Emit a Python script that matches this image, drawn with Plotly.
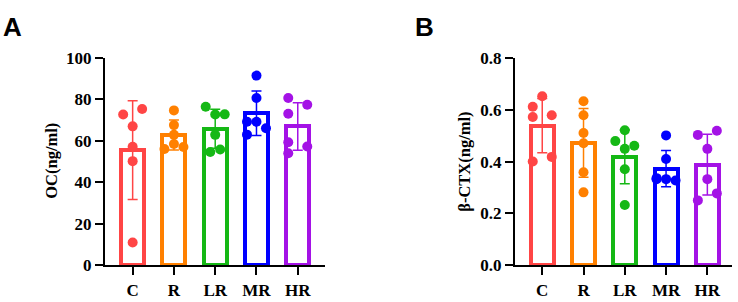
import numpy as np
import plotly.graph_objects as go

categories = ["C", "R", "LR", "MR", "HR"]
colors = ["#FF4545", "#FF8000", "#15B815", "#0000FF", "#A412E6"]

# Individual values
oc_C = [72.7, 75.4, 67.0, 57.1, 50.2, 10.9]
oc_R = [74.7, 67.6, 62.9, 58.5, 56.1, 57.0]
oc_LR = [76.5, 72.7, 72.8, 62.9, 55.8, 54.6]
oc_MR = [91.5, 80.7, 69.2, 69.2, 66.1, 63.0]
oc_HR = [80.7, 77.4, 73.1, 59.3, 57.3, 54.0]

ctx_C = [0.652, 0.612, 0.572, 0.579, 0.400, 0.418]
ctx_R = [0.633, 0.579, 0.510, 0.471, 0.359, 0.281]
ctx_LR = [0.521, 0.479, 0.461, 0.449, 0.370, 0.232]
ctx_MR = [0.501, 0.410, 0.332, 0.336, 0.332, 0.327]
ctx_HR = [0.503, 0.519, 0.449, 0.332, 0.277, 0.250]

# horizontal jitter of dots (category units), style only
jit_oc = [
    [-0.23, 0.23, 0.0, 0.0, 0.0, 0.0],
    [0.0, 0.0, 0.0, 0.0, -0.23, 0.23],
    [-0.23, 0.0, 0.23, 0.0, 0.12, -0.12],
    [0.0, 0.0, -0.23, 0.0, 0.23, -0.23],
    [-0.23, 0.23, -0.23, -0.23, 0.23, -0.23],
]
jit_ctx = [
    [0.0, -0.23, -0.23, 0.23, -0.23, 0.23],
    [0.0, 0.0, 0.0, 0.0, 0.0, 0.0],
    [0.0, -0.23, 0.23, 0.0, 0.0, 0.0],
    [0.0, 0.0, -0.23, -0.23, 0.0, 0.23],
    [-0.23, 0.23, 0.0, 0.0, 0.23, -0.23],
]

oc_groups = [oc_C, oc_R, oc_LR, oc_MR, oc_HR]
ctx_groups = [ctx_C, ctx_R, ctx_LR, ctx_MR, ctx_HR]

serif = dict(family="Liberation Serif, Times New Roman, serif", size=17, color="black", weight="bold")
serif_t = dict(family="Liberation Serif, Times New Roman, serif", size=16.5, color="black", weight="bold")

fig = go.Figure()

def add_panel(groups, jit, xa, ya):
    for i, (vals, c) in enumerate(zip(groups, colors)):
        v = np.array(vals)
        m = v.mean()
        sd = v.std(ddof=1)
        fig.add_trace(go.Bar(
            x=[i], y=[m], width=0.56, marker=dict(color="white", line=dict(color=c, width=4)),
            error_y=dict(type="data", array=[sd], visible=True, color=c, thickness=1.5, width=5),
            xaxis=xa, yaxis=ya, showlegend=False, hoverinfo="skip"))
    for i, (vals, c) in enumerate(zip(groups, colors)):
        fig.add_trace(go.Scatter(
            x=[i + j for j in jit[i]], y=vals, mode="markers",
            marker=dict(color=c, size=10, line=dict(width=0)),
            xaxis=xa, yaxis=ya, showlegend=False, cliponaxis=False))

add_panel(oc_groups, jit_oc, "x", "y")
add_panel(ctx_groups, jit_ctx, "x2", "y2")

axis_common = dict(showline=True, linecolor="black", linewidth=2, ticks="outside",
                   ticklen=8, tickwidth=2, tickcolor="black", showgrid=False, zeroline=False,
                   tickfont=serif)

H = 302
W = 738
fig.update_layout(
    width=W, height=H, margin=dict(l=0, r=0, t=0, b=0),
    plot_bgcolor="white", paper_bgcolor="white", bargap=0,
    xaxis=dict(domain=[105 / W, 325 / W], range=[-0.67, 4.66], tickvals=list(range(5)),
               ticktext=categories, anchor="y", **axis_common),
    yaxis=dict(domain=[(H - 273.3) / H, (H - 52.3) / H], range=[0, 100], tickvals=[0, 20, 40, 60, 80, 100],
               anchor="x", **axis_common),
    xaxis2=dict(domain=[515 / W, 731.7 / W], range=[-0.66, 4.59], tickvals=list(range(5)),
                ticktext=categories, anchor="y2", **axis_common),
    yaxis2=dict(domain=[(H - 273.3) / H, (H - 52.3) / H], range=[0, 0.8], tickvals=[0, 0.2, 0.4, 0.6, 0.8],
                tickformat=".1f", anchor="x2", **axis_common),
    annotations=[
        dict(text="OC(ng/ml)", x=51.5 / W, y=(H - 162.5) / H, xref="paper", yref="paper",
             textangle=-90, showarrow=False, font=serif_t, xanchor="center", yanchor="middle"),
        dict(text="β-CTX(ng/ml)", x=465 / W, y=(H - 163) / H, xref="paper", yref="paper",
             textangle=-90, showarrow=False, font=serif_t, xanchor="center", yanchor="middle"),
        dict(text="A", x=1 / W, y=1 - 1 / H, xref="paper", yref="paper", showarrow=False,
             xanchor="left", yanchor="top",
             font=dict(family="Liberation Sans, Arial, sans-serif", size=26, color="black", weight="bold")),
        dict(text="B", x=413 / W, y=1 - 1 / H, xref="paper", yref="paper", showarrow=False,
             xanchor="left", yanchor="top",
             font=dict(family="Liberation Sans, Arial, sans-serif", size=26, color="black", weight="bold")),
    ],
)

fig.write_html("out.html")
